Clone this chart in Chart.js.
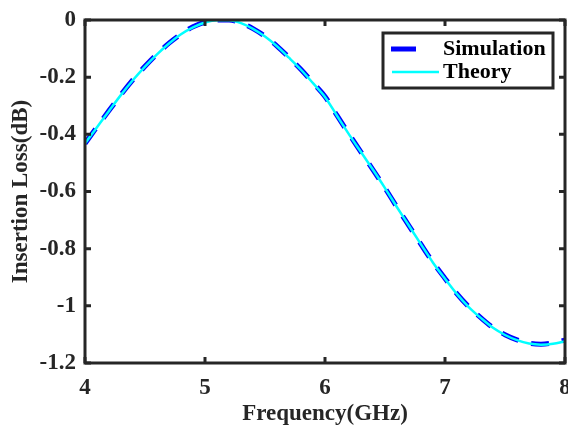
<!DOCTYPE html>
<html>
<head>
<meta charset="utf-8">
<script src="https://cdn.jsdelivr.net/npm/chart.js@4.4.1/dist/chart.umd.min.js"></script>
<style>
  html, body { margin: 0; padding: 0; background: #fff; }
  #wrap { width: 568px; height: 426px; }
</style>
</head>
<body>
<div id="wrap"><canvas id="lossChart" width="568" height="426"></canvas></div>
<script>
// frequency points (GHz)
var freq = [4.0, 4.1, 4.2, 4.3, 4.4, 4.5, 4.6, 4.7, 4.8, 4.9,
            5.0, 5.1, 5.2, 5.3, 5.4, 5.5, 5.6, 5.7, 5.8, 5.9,
            6.0, 6.1, 6.2, 6.3, 6.4, 6.5, 6.6, 6.7, 6.8, 6.9,
            7.0, 7.1, 7.2, 7.3, 7.4, 7.5, 7.6, 7.7, 7.8, 7.9, 8.0];

// insertion loss (dB)
var simulation = [-0.432, -0.374, -0.317, -0.261, -0.209, -0.162, -0.119, -0.081, -0.049, -0.024,
                  -0.007,  0.000,  0.000, -0.010, -0.030, -0.057, -0.091, -0.131, -0.173, -0.220,
                  -0.268, -0.334, -0.399, -0.462, -0.524, -0.588, -0.655, -0.720, -0.785, -0.848,
                  -0.904, -0.958, -1.004, -1.042, -1.076, -1.101, -1.119, -1.131, -1.134, -1.130, -1.120];

var theory =     [-0.432, -0.375, -0.318, -0.262, -0.210, -0.163, -0.120, -0.082, -0.050, -0.026,
                  -0.009, -0.001, -0.001, -0.011, -0.031, -0.058, -0.092, -0.132, -0.174, -0.221,
                  -0.269, -0.335, -0.400, -0.462, -0.524, -0.588, -0.655, -0.720, -0.785, -0.849,
                  -0.905, -0.959, -1.005, -1.043, -1.077, -1.102, -1.120, -1.132, -1.136, -1.133, -1.124];

var seriesNames = ["Simulation", "Theory"];
var xTicks = [4, 5, 6, 7, 8];
var yTicks = [0, -0.2, -0.4, -0.6, -0.8, -1, -1.2];

var axisColor = "#262626";
var fontFamily = "'Liberation Serif', 'Times New Roman', serif";

function pairs(xs, ys) {
  return xs.map(function (x, i) { return { x: x, y: ys[i] }; });
}

// frame box + inward ticks, like MATLAB axes
var framePlugin = {
  id: "frame",
  afterDatasetsDraw: function (chart) {
    var c = chart.ctx, a = chart.chartArea;
    var xs = chart.scales.x, ys = chart.scales.y;
    var len = 6;
    c.save();
    c.strokeStyle = axisColor;
    c.lineWidth = 3;
    c.lineCap = "butt";
    c.beginPath();
    xTicks.forEach(function (v) {
      var px = xs.getPixelForValue(v);
      c.moveTo(px, a.bottom); c.lineTo(px, a.bottom - len);
      c.moveTo(px, a.top); c.lineTo(px, a.top + len);
    });
    yTicks.forEach(function (v) {
      var py = ys.getPixelForValue(v);
      c.moveTo(a.left, py); c.lineTo(a.left + len, py);
      c.moveTo(a.right, py); c.lineTo(a.right - len, py);
    });
    c.stroke();
    c.strokeRect(a.left, a.top, a.right - a.left, a.bottom - a.top);
    c.restore();
  }
};

// boxed legend in the top right corner
var legendPlugin = {
  id: "boxLegend",
  afterDraw: function (chart) {
    var c = chart.ctx;
    var ds = chart.data.datasets;
    var bx = 383, by = 33, bw = 170, bh = 55;
    c.save();
    c.fillStyle = "#fff";
    c.fillRect(bx, by, bw, bh);
    c.strokeStyle = axisColor;
    c.lineWidth = 3;
    c.strokeRect(bx, by, bw, bh);

    // Simulation sample (one dash)
    c.strokeStyle = ds[0].borderColor;
    c.lineWidth = ds[0].borderWidth;
    c.beginPath(); c.moveTo(391, 49); c.lineTo(416, 49); c.stroke();
    // Theory sample
    c.strokeStyle = ds[1].borderColor;
    c.lineWidth = ds[1].borderWidth;
    c.beginPath(); c.moveTo(392, 72); c.lineTo(439, 72); c.stroke();

    c.fillStyle = "#000";
    c.font = "bold 22px " + fontFamily;
    c.textBaseline = "middle";
    c.textAlign = "left";
    c.fillText(ds[0].label, 443, 49);
    c.fillText(ds[1].label, 443, 72);
    c.restore();
  }
};

var ctx = document.getElementById("lossChart").getContext("2d");

var lossChart = new Chart(ctx, {
  type: "line",
  data: {
    datasets: [
      {
        label: seriesNames[0],
        data: pairs(freq, simulation),
        borderColor: "#0000FF",
        borderWidth: 5,
        borderDash: [18, 13],
        pointRadius: 0,
        cubicInterpolationMode: "monotone",
        order: 2
      },
      {
        label: seriesNames[1],
        data: pairs(freq, theory),
        borderColor: "#00FFFF",
        borderWidth: 2.5,
        pointRadius: 0,
        cubicInterpolationMode: "monotone",
        order: 1
      }
    ]
  },
  options: {
    responsive: false,
    animation: false,
    layout: { padding: { top: 20, right: 3, left: 0, bottom: 0 } },
    plugins: {
      legend: { display: false },
      tooltip: { enabled: false }
    },
    scales: {
      x: {
        type: "linear",
        min: 4,
        max: 8,
        afterFit: function (s) { s.height = 63; s.paddingLeft = 0; s.paddingRight = 0; },
        grid: { display: false, drawTicks: false },
        border: { display: false },
        ticks: {
          stepSize: 1,
          padding: 11,
          color: axisColor,
          font: { family: fontFamily, size: 23, weight: "bold", lineHeight: 1.2 }
        },
        title: {
          display: true,
          text: "Frequency(GHz)",
          color: axisColor,
          padding: { top: 0, bottom: 0 },
          font: { family: fontFamily, size: 23, weight: "bold", lineHeight: 1 }
        }
      },
      y: {
        min: -1.2,
        max: 0,
        afterFit: function (s) { s.width = 85; s.paddingTop = 0; s.paddingBottom = 0; },
        grid: { display: false, drawTicks: false },
        border: { display: false },
        ticks: {
          stepSize: 0.2,
          padding: 9,
          color: axisColor,
          font: { family: fontFamily, size: 23, weight: "bold", lineHeight: 1.2 },
          callback: function (v) { return String(parseFloat(v.toFixed(1))); }
        },
        title: {
          display: true,
          text: "Insertion Loss(dB)",
          color: axisColor,
          padding: { top: 10, bottom: 0 },
          font: { family: fontFamily, size: 23, weight: "bold", lineHeight: 1 }
        }
      }
    }
  },
  plugins: [framePlugin, legendPlugin]
});
</script>
</body>
</html>
